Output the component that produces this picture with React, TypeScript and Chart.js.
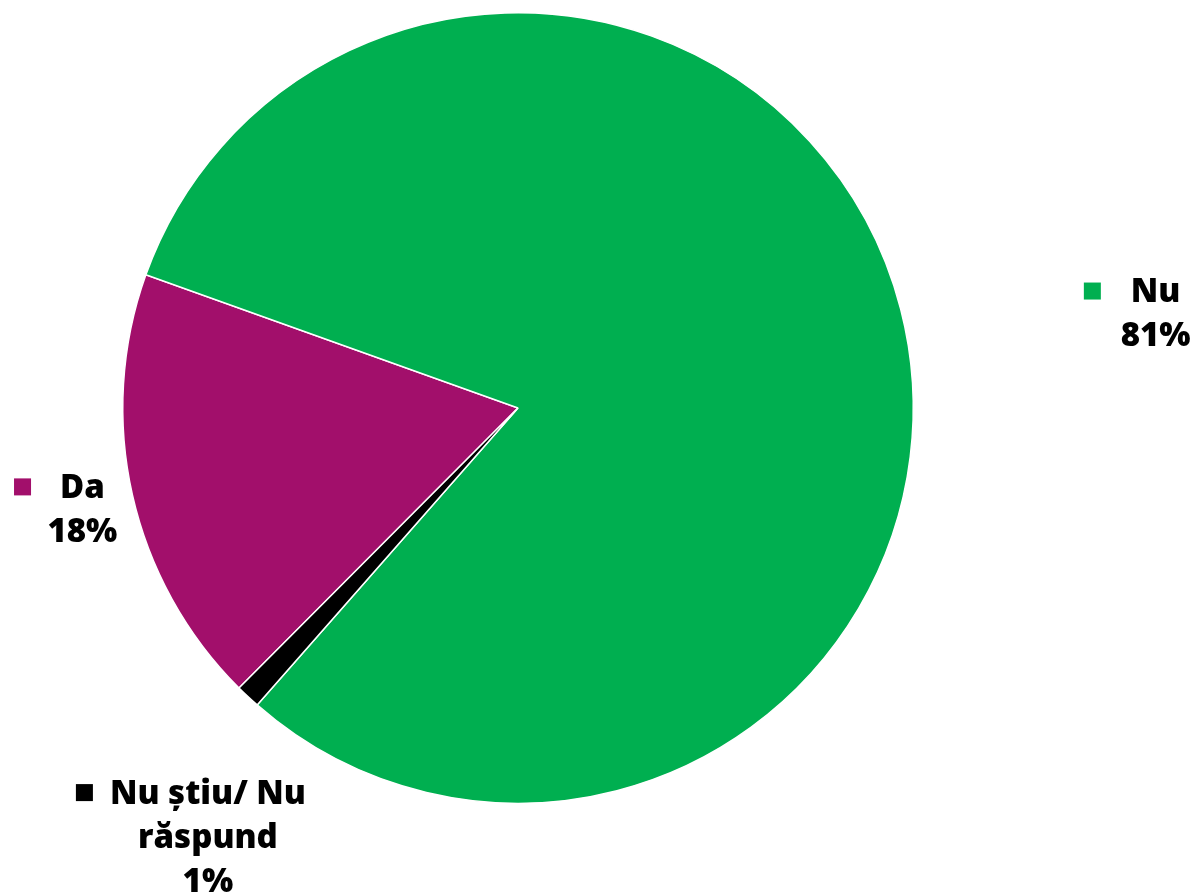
import React, { useEffect, useRef } from "react";
import { Chart, registerables } from "chart.js";

Chart.register(...registerables);

const categories = ["Da", "Nu", "Nu știu/ Nu răspund"];
const values = [18, 81, 1];
const labelLines = [["Da", "18%"], ["Nu", "81%"], ["Nu știu/ Nu", "răspund", "1%"]];
const colors = ["#A20F6B", "#00AF50", "#000000"];

// offsets (px) of each label block center from the mid-point of its arc edge
const labelOffsets = [
  [-50, 16],
  [255, 6],
  [-40, 142],
];
const keyGaps = [29, 30, 17];

const FONT = "800 33px 'Open Sans', 'DejaVu Sans', sans-serif";
const LINE_H = 44;
const KEY = 17;

const labelPlugin = {
  id: "outsideLabels",
  afterDraw(chart: any) {
    const ctx = chart.ctx;
    const meta = chart.getDatasetMeta(0);
    ctx.save();
    ctx.font = FONT;
    ctx.fillStyle = "#000";
    ctx.textAlign = "center";
    ctx.textBaseline = "middle";
    meta.data.forEach((arc: any, i: number) => {
      const p = arc.getProps(["x", "y", "startAngle", "endAngle", "outerRadius"], true);
      const mid = (p.startAngle + p.endAngle) / 2;
      const ex = p.x + Math.cos(mid) * p.outerRadius;
      const ey = p.y + Math.sin(mid) * p.outerRadius;
      const cx = ex + labelOffsets[i][0];
      const cy = ey + labelOffsets[i][1];
      const lines = labelLines[i];
      const top = cy - (lines.length * LINE_H) / 2;
      lines.forEach((ln, j) => {
        const ly = top + LINE_H * (j + 0.5);
        ctx.fillText(ln, cx, ly);
        if (j === 0) {
          const w = ctx.measureText(ln).width;
          ctx.fillStyle = colors[i];
          ctx.fillRect(cx - w / 2 - keyGaps[i] - KEY, ly - KEY / 2 - 2, KEY, KEY);
          ctx.fillStyle = "#000";
        }
      });
    });
    ctx.restore();
  },
};

export default function App() {
  const ref = useRef<HTMLCanvasElement>(null);
  useEffect(() => {
    if (!ref.current) return;
    const chart = new Chart(ref.current, {
      type: "pie",
      data: {
        labels: categories,
        datasets: [
          {
            data: values,
            backgroundColor: colors,
            borderColor: "#ffffff",
            borderWidth: 1.5,
          },
        ],
      },
      options: {
        responsive: false,
        animation: false,
        rotation: 224.9,
        layout: { padding: { left: 122, top: 12, right: 281, bottom: 90 } },
        plugins: {
          legend: { display: false },
          tooltip: { enabled: false },
        },
      },
      plugins: [labelPlugin],
    });
    return () => chart.destroy();
  }, []);
  return (
    <div style={{ position: "absolute", left: 0, top: 0, width: 1195, height: 894, background: "#fff" }}>
      <canvas ref={ref} width={1195} height={894} style={{ display: "block" }} />
    </div>
  );
}
